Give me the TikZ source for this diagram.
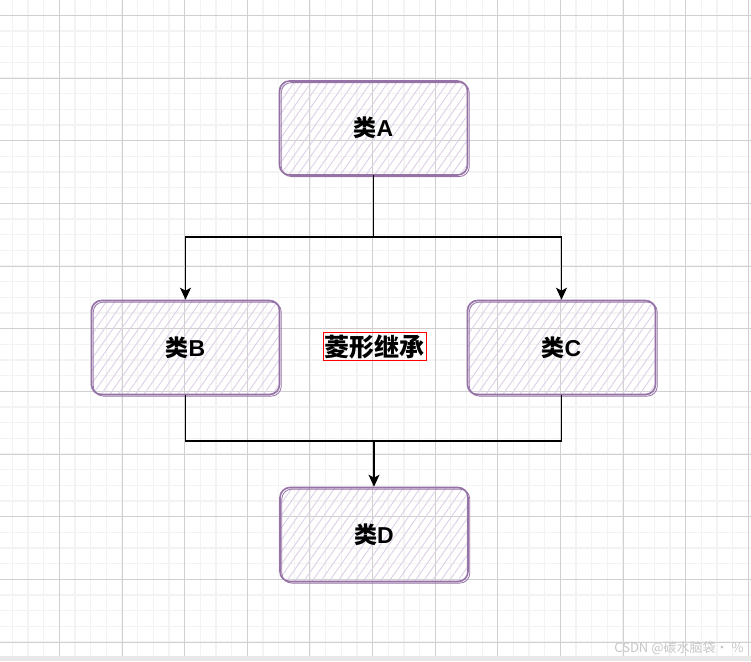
\documentclass[tikz,border=0pt]{standalone}
\usepackage{fontspec}
\setmainfont{Liberation Sans}
\newfontfamily\cjk{Noto Sans CJK SC}
\usetikzlibrary{arrows.meta,patterns.meta}
\definecolor{boxline}{HTML}{9673A6}
\definecolor{boxhatch}{HTML}{DDD0E7}
\definecolor{gridmajor}{HTML}{D0D0D0}
\definecolor{gridminor}{HTML}{F3F3F3}

\begin{document}
\begin{tikzpicture}[x=1pt,y=-1pt,>={Stealth[length=12pt,width=11pt,inset=3pt]},
  cls/.style={rounded corners=10pt,draw=boxline,line width=1.6pt,minimum width=188pt,minimum height=94pt,
    pattern={Lines[angle=55,distance=7pt,line width=0.9pt]},pattern color=boxhatch,
    font=\bfseries\fontsize{23}{23}\selectfont,
    postaction={draw=boxline,line width=0.8pt,rounded corners=12pt,transform canvas={shift={(1.8pt,-1.6pt)}}}},
  link/.style={line width=1.3pt}]
\useasboundingbox (0,0) rectangle (751,661);
\fill[white] (0,0) rectangle (751,661);
\foreach \k in {0,...,48}{\draw[gridminor,line width=1.3pt] ({-3.3+15.66*\k},0)--++(0,656);}
\foreach \k in {0,...,41}{\draw[gridminor,line width=1.3pt] (0,{-0.4+15.67*\k})--++(751,0);}
\foreach \k in {0,...,12}{\draw[gridmajor,line width=0.9pt] ({-3.3+62.64*\k},0)--++(0,656);}
\foreach \k in {0,...,10}{\draw[gridmajor,line width=0.9pt] (0,{15.3+62.7*\k})--++(751,0);}
\fill[black!9] (0,656) rectangle (751,661);

\node[cls] (clsA) at (373.5,128) {{\cjk 类}A};
\node[cls] (clsB) at (185.5,347.5) {{\cjk 类}B};
\node[cls] (clsC) at (561.5,347.5) {{\cjk 类}C};
\node[cls] (clsD) at (374,534.5) {{\cjk 类}D};
\node[draw=red,line width=0.8pt,inner xsep=1.5pt,inner ysep=2pt,font=\cjk\bfseries\fontsize{25}{25}\selectfont] (tag) at (374.5,346.5) {菱形继承};

\coordinate (split) at (373.5,237);
\coordinate (merge) at (374,441);
\draw[link] (clsA.south)--(split);
\draw[link,->] (split)-|(clsB.north);
\draw[link,->] (split)-|(clsC.north);
\draw[link] (clsB.south)|-(merge)-|(clsC.south);
\draw[link,->] (merge)--(clsD.north);

\node[anchor=east,text=black!22,font=\cjk\fontsize{13}{13}\selectfont] (mark) at (747,648) {CSDN @碳水脑袋· \%};
\end{tikzpicture}
\end{document}
